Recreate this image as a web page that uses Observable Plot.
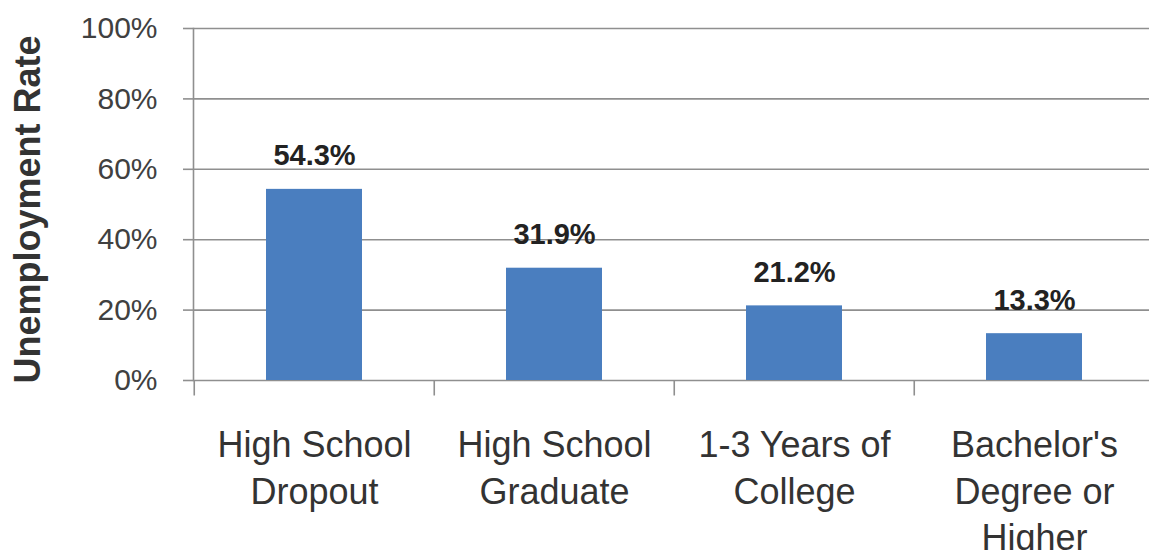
<!DOCTYPE html>
<html>
<head>
<meta charset="utf-8">
<script src="https://cdn.jsdelivr.net/npm/d3@7"></script>
<script src="https://cdn.jsdelivr.net/npm/@observablehq/plot@0.6"></script>
<style>
  html, body { margin: 0; padding: 0; background: #ffffff; }
</style>
</head>
<body>
<div id="chart"></div>
<script>
const categories = ["High School Dropout", "High School Graduate", "1-3 Years of College", "Bachelor's Degree or Higher"];
const tickLabels = ["High School\nDropout", "High School\nGraduate", "1-3 Years of\nCollege", "Bachelor's\nDegree or\nHigher"];
const rates = [54.3, 31.9, 21.2, 13.3];
const yTicks = [0, 20, 40, 60, 80, 100];
const yLabel = "Unemployment Rate";

const data = categories.map((c, i) => ({category: c, rate: rates[i], label: tickLabels[i]}));

const xRange = [193, 1155];
const padIn = 0.6, padOut = 0.3;
const step = (xRange[1] - xRange[0]) / (categories.length - padIn + 2 * padOut);
const gridColor = "#8f8f8f";

const plot = Plot.plot({
  width: 1149,
  height: 550,
  marginLeft: 193,
  marginRight: 0,
  marginTop: 28,
  marginBottom: 170,
  style: {fontFamily: "'Liberation Sans', Arial, sans-serif", background: "#ffffff"},
  x: {domain: categories, range: xRange, paddingInner: padIn, paddingOuter: padOut},
  y: {domain: [0, 100]},
  marks: [
    Plot.ruleY(yTicks, {y: d => d, stroke: gridColor, strokeWidth: 1.6}),
    Plot.frame({anchor: "left", stroke: gridColor, strokeWidth: 1.6}),
    Plot.ruleX(categories, {x: d => d, dx: -step / 2, y1: 0, y2: -4.4, stroke: gridColor, strokeWidth: 1.6}),
    Plot.barY(data, {x: "category", y: "rate", fill: "#4a7ebf"}),
    Plot.text(data, {x: "category", y: "rate", text: d => d.rate.toFixed(1) + "%", lineAnchor: "bottom", dy: -24, fontSize: 29, fontWeight: "bold", fill: "#222222"}),
    Plot.axisY(yTicks, {tickFormat: d => d + "%", tickSize: 10, tickPadding: 26, fontSize: 30, stroke: gridColor, strokeWidth: 1.6, fill: "#404040", label: null}),
    Plot.axisX({tickSize: 0, tickPadding: 43, fontSize: 36, lineHeight: 1.3, tickFormat: d => tickLabels[categories.indexOf(d)], fill: "#333333", label: null}),
    Plot.text([yLabel], {frameAnchor: "left", text: d => d, textAnchor: "middle", lineAnchor: "middle", rotate: -90, dx: -165, dy: 5, fontSize: 36, fontWeight: "bold", fill: "#333333"})
  ]
});
document.getElementById("chart").appendChild(plot);
</script>
</body>
</html>
